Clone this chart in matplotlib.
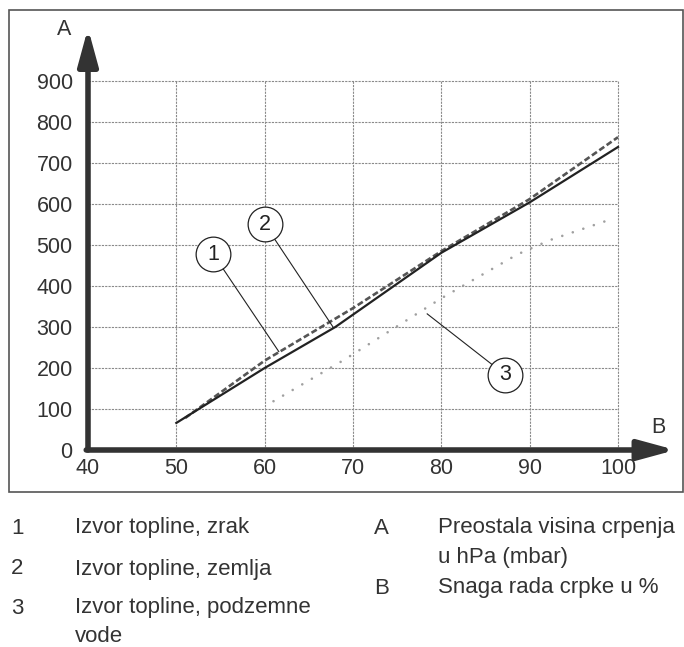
import matplotlib.pyplot as plt
from matplotlib.patches import Rectangle

plt.rcParams['font.family'] = ['Liberation Sans', 'DejaVu Sans']

# curve data
x_zrak = [50, 60, 68, 80, 90, 100]
y_zrak = [66, 200, 300, 481, 604, 739]
x_zemlja = [51, 60, 70, 80, 90, 100]
y_zemlja = [78, 218, 346, 485, 612, 763]
x_voda = [61, 69, 80, 88.6, 92.3, 98.7]
y_voda = [119, 220, 370, 477, 512, 559]

x_ticks = [40, 50, 60, 70, 80, 90, 100]
y_ticks = [0, 100, 200, 300, 400, 500, 600, 700, 800, 900]

# callouts: label, circle centre, leader end
callouts = [("1", (54.2, 477), (61.6, 240)),
            ("2", (60.0, 551), (67.8, 298)),
            ("3", (87.2, 184), (78.4, 332))]

# key below the chart: (mark, lines of text)
legend_left = [("1", ["Izvor topline, zrak"]),
               ("2", ["Izvor topline, zemlja"]),
               ("3", ["Izvor topline, podzemne", "vode"])]
legend_right = [("A", ["Preostala visina crpenja", "u hPa (mbar)"]),
                ("B", ["Snaga rada crpke u %"])]

W, H = 684, 647
fig = plt.figure(figsize=(W / 100, H / 100), dpi=100)

# axes placement (pixels from the reference)
px_per_x = 530 / 60
px_per_y = 41.0 / 100
x0_px, y0_px = 88, 450
xmax, ymax = 107, 1045
ax = fig.add_axes([x0_px / W, (H - y0_px) / H,
                   (xmax - 40) * px_per_x / W, ymax * px_per_y / H])
ax.set_xlim(40, xmax)
ax.set_ylim(0, ymax)
for s in ax.spines.values():
    s.set_visible(False)

# grid only inside the 40..100 / 0..900 block
grid_kw = dict(color="#8a8a8a", lw=0.8, linestyle=(0, (2, 1)), zorder=1)
ax.hlines(y_ticks[1:], 40, 100, **grid_kw)
ax.vlines(x_ticks[1:], 0, 900, **grid_kw)

ax.plot(x_voda, y_voda, color="#a0a0a0", lw=1.9, linestyle=(0, (0.01, 4.2)),
        dash_capstyle="round", zorder=2)
ax.plot(x_zemlja, y_zemlja, color="#555555", lw=1.9, linestyle=(0, (2.3, 1.1)), zorder=3)
ax.plot(x_zrak, y_zrak, color="#222222", lw=1.6, zorder=4)

# axis arrows
arrow_kw = dict(arrowstyle="-|>,head_length=2.2,head_width=0.6", lw=4,
                color="#333333", shrinkA=0, shrinkB=0, mutation_scale=10)
ax.annotate("", xy=(40, 1029), xytext=(40, 0), arrowprops=arrow_kw,
            annotation_clip=False, zorder=5)
ax.annotate("", xy=(106.5, 0), xytext=(39.8, 0), arrowprops=arrow_kw,
            annotation_clip=False, zorder=5)
ax.text(37.3, 1025, "A", fontsize=15.5, ha="center", va="center", color="#333333")
ax.text(104.6, 54, "B", fontsize=15.5, ha="center", va="center", color="#333333")

ax.set_xticks(x_ticks)
ax.set_xticklabels([str(v) for v in x_ticks])
ax.set_yticks(y_ticks)
ax.set_yticklabels([str(v) for v in y_ticks])
ax.tick_params(length=0, labelsize=15.5, labelcolor="#333333")
ax.tick_params(axis="x", pad=6)
ax.tick_params(axis="y", pad=11)

for lab, (cx, cy), (ex, ey) in callouts:
    ax.plot([cx, ex], [cy, ey], color="#222222", lw=0.8, zorder=6)
    ax.plot(cx, cy, "o", ms=25, mfc="white", mec="#222222", mew=0.9, zorder=7)
    ax.text(cx, cy, lab, fontsize=15.5, ha="center", va="center", color="#222222", zorder=8)

# frame around the chart
fig.add_artist(Rectangle((9 / W, (H - 492) / H), (W - 10) / W, 482 / H,
                         transform=fig.transFigure, fill=False,
                         edgecolor="#555555", lw=1.2))

# key below the chart
fs = 16
col = "#333333"


def put_key(items, rows, x_mark, x_text, line_gap):
    for (mark, lines), yp in zip(items, rows):
        fig.text(x_mark / W, 1 - yp / H, mark, fontsize=fs, va="center", color=col)
        for i, line in enumerate(lines):
            fig.text(x_text / W, 1 - (yp + i * line_gap) / H, line, fontsize=fs,
                     va="center", color=col)


put_key(legend_left, [528, 569, 608], 11, 75, 29)
put_key(legend_right, [528, 588], 374, 438, 30)

fig.savefig("out.png", dpi=100)
